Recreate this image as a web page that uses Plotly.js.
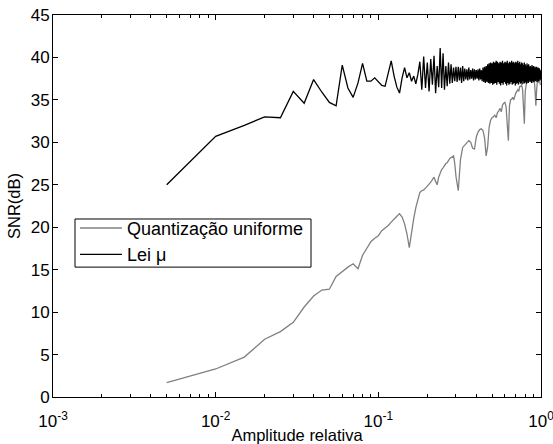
<!DOCTYPE html>
<html>
<head>
<meta charset="utf-8">
<script src="https://cdn.plot.ly/plotly-3.0.1.min.js"></script>
<style>html,body{margin:0;padding:0;background:#fff;}#chart{width:553px;height:444px;}</style>
</head>
<body>
<div id="chart"></div>
<script>
// Amplitude grid for the mu-law curve (step 0.005)
const ampMu = [
0.005,0.01,0.015,0.02,0.025,0.03,0.035,0.04,0.045,0.05,0.055,0.06,0.065,0.07,0.075,0.08,0.085,0.09,0.095,0.1,
0.105,0.11,0.115,0.12,0.125,0.13,0.135,0.14,0.145,0.15,0.155,0.16,0.165,0.17,0.175,0.18,0.185,0.19,0.195,0.2,
0.205,0.21,0.215,0.22,0.225,0.23,0.235,0.24,0.245,0.25,0.255,0.26,0.265,0.27,0.275,0.28,0.285,0.29,0.295,0.3,
0.305,0.31,0.315,0.32,0.325,0.33,0.335,0.34,0.345,0.35,0.355,0.36,0.365,0.37,0.375,0.38,0.385,0.39,0.395,0.4,
0.405,0.41,0.415,0.42,0.425,0.43,0.435,0.44,0.445,0.45,0.455,0.46,0.465,0.47,0.475,0.48,0.485,0.49,0.495,0.5,
0.505,0.51,0.515,0.52,0.525,0.53,0.535,0.54,0.545,0.55,0.555,0.56,0.565,0.57,0.575,0.58,0.585,0.59,0.595,0.6,
0.605,0.61,0.615,0.62,0.625,0.63,0.635,0.64,0.645,0.65,0.655,0.66,0.665,0.67,0.675,0.68,0.685,0.69,0.695,0.7,
0.705,0.71,0.715,0.72,0.725,0.73,0.735,0.74,0.745,0.75,0.755,0.76,0.765,0.77,0.775,0.78,0.785,0.79,0.795,0.8,
0.805,0.81,0.815,0.82,0.825,0.83,0.835,0.84,0.845,0.85,0.855,0.86,0.865,0.87,0.875,0.88,0.885,0.89,0.895,0.9,
0.905,0.91,0.915,0.92,0.925,0.93,0.935,0.94,0.945,0.95,0.955,0.96,0.965,0.97,0.975,0.98,0.985,0.99,0.995,1.0
];
// SNR (dB) for mu-law quantization
const snrMu = [
25.0,30.7,32.0,33.0,32.9,36.0,34.6,37.4,35.9,34.7,34.3,39.1,36.4,35.3,37.0,39.3,37.2,37.2,37.6,37.1,
36.7,36.6,38.0,39.6,37.8,36.5,35.8,37.6,38.8,37.6,38.2,37.2,37.8,36.9,38.0,39.5,36.2,40.1,36.4,39.4,
36.0,39.8,36.8,40.2,35.8,39.0,36.5,41.1,36.4,40.5,36.2,39.0,36.6,39.4,36.9,39.2,37.0,38.8,37.2,38.9,
37.1,38.9,37.3,38.8,37.0,39.0,37.2,38.7,37.4,38.6,37.3,38.8,37.4,38.5,37.5,38.7,37.3,38.6,37.4,38.5,
37.5,38.6,37.3,38.7,37.4,38.5,37.2,38.8,37.1,38.9,37.0,39.0,37.1,39.2,37.0,39.3,36.9,39.4,37.0,39.3,
36.8,39.5,36.9,39.4,37.0,39.6,36.8,39.5,37.1,39.3,36.9,39.5,36.7,39.4,37.0,39.6,36.8,39.3,37.1,39.5,
36.9,39.4,36.7,39.6,37.0,39.3,36.8,39.5,36.9,39.4,37.1,39.6,36.8,39.4,36.9,39.5,37.0,39.3,36.7,39.5,
36.9,39.4,37.0,39.6,36.8,39.3,37.1,39.5,36.9,39.2,37.0,39.4,36.8,39.3,37.2,39.1,36.9,39.4,37.0,39.2,
37.1,39.0,36.9,39.3,37.2,39.1,37.0,39.2,37.3,38.9,37.1,39.0,37.2,38.8,37.0,39.1,37.3,38.9,37.2,39.0,
37.1,38.8,37.4,38.9,37.2,38.7,37.3,38.9,37.1,38.6,37.4,38.8,37.2,38.7,37.5,38.6,37.3,38.5,37.4,38.0
];
// Amplitude grid for the uniform-quantization curve
const ampUni = [
0.005,0.01,0.015,0.02,0.025,0.03,0.035,0.04,0.045,0.05,0.055,0.06,0.065,0.07,0.075,0.08,0.085,0.09,0.095,0.1,
0.105,0.11,0.115,0.12,0.125,0.13,0.135,0.14,0.145,0.15,0.155,0.16,0.165,0.17,0.175,0.18,0.185,0.19,0.195,0.2,
0.205,0.21,0.215,0.22,0.225,0.23,0.235,0.24,0.245,0.25,0.255,0.26,0.265,0.27,0.275,0.28,0.285,0.29,0.295,0.3,
0.31,0.32,0.33,0.34,0.35,0.36,0.37,0.38,0.39,0.4,
0.41,0.42,0.43,0.44,0.45,0.46,0.47,0.48,0.49,0.5,
0.51,0.52,0.53,0.54,0.55,0.56,0.57,0.58,0.59,0.6,
0.61,0.62,0.63,0.64,0.65,0.66,0.67,0.68,0.69,0.7,
0.71,0.72,0.73,0.74,0.75,0.76,0.77,0.78,0.79,0.8,
0.81,0.82,0.83,0.84,0.85,0.86,0.87,0.88,0.89,0.9,
0.91,0.92,0.93,0.94,0.95,0.96,0.97,0.98,0.99,1.0
];
// SNR (dB) for uniform quantization
const snrUni = [
1.7,3.3,4.7,6.8,7.7,8.8,10.6,11.9,12.6,12.7,14.2,14.8,15.3,15.7,15.1,16.7,17.6,18.3,18.7,19.0,
19.6,19.9,20.2,20.6,21.0,21.3,21.6,21.2,20.4,19.2,17.6,19.5,21.0,22.3,23.4,24.1,24.3,24.4,24.6,24.8,
25.0,25.3,25.6,25.9,25.4,25.0,25.9,26.5,26.8,27.0,27.3,27.5,27.6,27.9,28.1,28.2,28.3,28.4,27.5,26.0,
24.3,28.0,29.4,29.7,30.0,30.2,30.0,29.3,29.2,30.6,
31.2,31.5,31.6,31.4,30.5,28.4,29.5,31.8,32.6,32.9,
33.0,33.2,32.9,33.5,33.7,34.0,33.6,34.4,34.6,34.7,
34.2,32.0,30.2,34.3,35.0,35.1,35.3,35.0,35.6,35.8,
36.0,36.2,36.0,36.6,36.6,36.7,36.3,34.0,32.2,36.0,
37.2,37.4,37.0,37.6,37.7,37.8,37.8,37.6,37.0,37.6,
37.2,36.0,34.3,36.2,37.2,37.0,37.4,37.3,36.8,36.9
];
const seriesNames = ['Quantização uniforme', 'Lei μ'];
const xTickVals = [0.001, 0.01, 0.1, 1];
const xTickText = ['10<sup>-3</sup>', '10<sup>-2</sup>', '10<sup>-1</sup>', '10<sup>0</sup>'];
const xMinorVals = [0.002,0.003,0.004,0.005,0.006,0.007,0.008,0.009,
  0.02,0.03,0.04,0.05,0.06,0.07,0.08,0.09,
  0.2,0.3,0.4,0.5,0.6,0.7,0.8,0.9];
const xRange = [-3, 0];
const yRange = [0, 45];

const FONT = 'Arial, "Liberation Sans", sans-serif';

const traces = [
  {x: ampUni, y: snrUni, name: seriesNames[0], type: 'scatter', mode: 'lines',
   xaxis: 'x', yaxis: 'y', line: {color: '#808080', width: 1.3}},
  {x: ampMu, y: snrMu, name: seriesNames[1], type: 'scatter', mode: 'lines',
   xaxis: 'x2', yaxis: 'y2', line: {color: '#000000', width: 1.3}}
];

const frameAxis = {
  ticks: 'inside', ticklen: 5, tickcolor: '#000', tickwidth: 1,
  showline: true, linecolor: '#000', linewidth: 1, mirror: 'ticks',
  showgrid: false, zeroline: false, showticklabels: false
};

const layout = {
  width: 553, height: 444,
  margin: {l: 53, r: 12, t: 15, b: 47, pad: 0},
  paper_bgcolor: '#fff', plot_bgcolor: '#fff',
  font: {family: FONT, size: 16, color: '#000'},
  showlegend: true,
  legend: {x: 0.045, y: 0.49, xanchor: 'left', yanchor: 'top',
    borderwidth: 0, bgcolor: 'rgba(0,0,0,0)', itemwidth: 42,
    font: {family: FONT, size: 18, color: '#000'}, tracegroupgap: 0},
  shapes: [
    {type: 'rect', xref: 'paper', yref: 'paper', x0: 0.0451, x1: 0.5287, y0: 0.340, y1: 0.466,
     line: {color: '#000', width: 1}, fillcolor: 'rgba(255,255,255,0)', layer: 'above'}
  ],
  xaxis: Object.assign({}, frameAxis, {
    type: 'log', range: xRange, tickmode: 'array', tickvals: xTickVals,
    minor: {tickmode: 'array', tickvals: xMinorVals, ticks: 'inside', ticklen: 3, tickcolor: '#000', showgrid: false}
  }),
  yaxis: Object.assign({}, frameAxis, {
    range: yRange, tickmode: 'linear', tick0: 0, dtick: 5
  }),
  xaxis2: {
    overlaying: 'x', anchor: 'y', side: 'bottom',
    type: 'log', range: xRange, tickmode: 'array', tickvals: xTickVals, ticktext: xTickText,
    ticks: 'outside', ticklen: 9, tickcolor: 'rgba(0,0,0,0)',
    showline: false, showgrid: false, zeroline: false, ticklabeloverflow: 'allow',
    tickfont: {family: FONT, size: 17, color: '#000'},
    title: {text: 'Amplitude relativa', font: {family: FONT, size: 16.5, color: '#000'}, standoff: 0}
  },
  yaxis2: {
    overlaying: 'y', anchor: 'free', position: 0, side: 'left',
    range: yRange, tickmode: 'linear', tick0: 0, dtick: 5, ticksuffix: '\u2009',
    ticks: '', showline: false, showgrid: false, zeroline: false,
    tickfont: {family: FONT, size: 17, color: '#000'},
    title: {text: 'SNR(dB)', font: {family: FONT, size: 16.5, color: '#000'}, standoff: 4}
  }
};

Plotly.newPlot('chart', traces, layout, {staticPlot: true, displayModeBar: false});
</script>
</body>
</html>
